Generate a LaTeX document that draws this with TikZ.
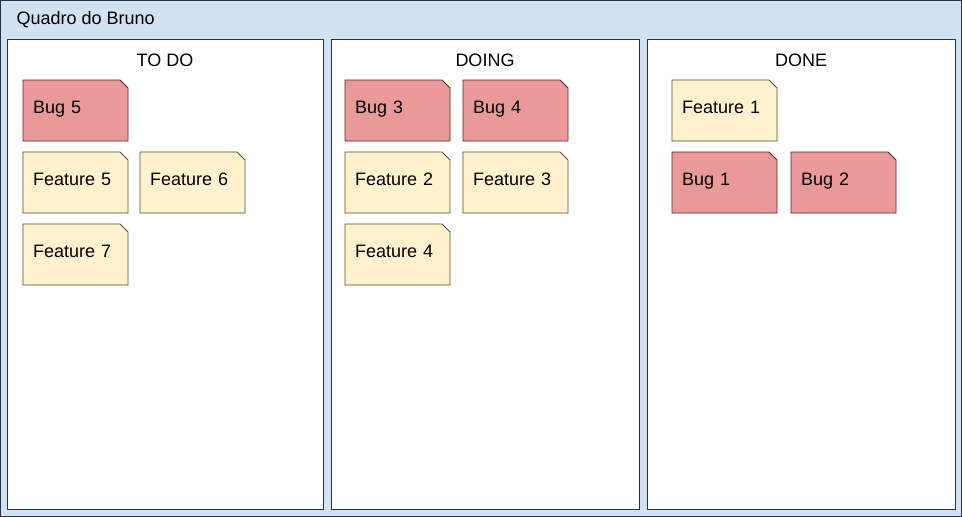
\documentclass[tikz,border=0pt]{standalone}
\usepackage{fontspec}
\setmainfont{Liberation Sans}
\definecolor{boardfill}{RGB}{211,226,243}
\definecolor{boardline}{RGB}{35,50,70}
\definecolor{bugfill}{RGB}{234,153,153}
\definecolor{bugline}{RGB}{90,35,35}
\definecolor{featfill}{RGB}{255,242,204}
\definecolor{featline}{RGB}{90,78,45}
\tikzset{
  x=1pt, y=-1pt,
  lane/.style={draw=boardline, fill=white, line width=1pt},
  cardbox/.style={rectangle, minimum width=105pt, minimum height=61pt,
    inner xsep=10pt, inner ysep=0pt, text width=85pt, align=left,
    anchor=north west, font=\fontsize{18}{20}\selectfont},
  bug/.style={draw=bugline, fill=bugfill, line width=0.8pt},
  feat/.style={draw=featline, fill=featfill, line width=0.8pt},
  lanetitle/.style={font=\fontsize{18}{20}\selectfont, anchor=center},
}
% a card: outline with a cut upper right corner, then its text node
% #1 name, #2 kind (bug/feat), #3 position, #4 text
\newcommand{\kcard}[4]{%
  \path #3 coordinate (#1-o);
  \path[#2] (#1-o) -- ++(97,0) -- ++(8,8) -- ++(0,53) -- ++(-105,0) -- cycle;
  \node[cardbox] (#1) at (#1-o) {\raisebox{6pt}{#4}};
}
\begin{document}
\begin{tikzpicture}
\useasboundingbox (0,0) rectangle (962,517);
% board
\draw[draw=boardline, fill=boardfill, line width=1pt] (0.5,0.5) rectangle (961.5,516.5);
\node[anchor=west, font=\fontsize{18}{20}\selectfont] (board) at (13,20) {Quadro do Bruno};
% lanes
\draw[lane] (7.5,39.5) rectangle (323.5,509.5);
\draw[lane] (331.5,39.5) rectangle (639.5,509.5);
\draw[lane] (647.5,39.5) rectangle (955.5,509.5);
\node[lanetitle] (todo) at (165,60) {TO DO};
\node[lanetitle] (doing) at (485,60) {DOING};
\node[lanetitle] (done) at (801,60) {DONE};
% TO DO cards
\kcard{bug5}{bug}{(23,80)}{Bug 5}
\kcard{feat5}{feat}{(23,152)}{Feature 5}
\kcard{feat6}{feat}{(140,152)}{Feature 6}
\kcard{feat7}{feat}{(23,224)}{Feature 7}
% DOING cards
\kcard{bug3}{bug}{(345,80)}{Bug 3}
\kcard{bug4}{bug}{(463,80)}{Bug 4}
\kcard{feat2}{feat}{(345,152)}{Feature 2}
\kcard{feat3}{feat}{(463,152)}{Feature 3}
\kcard{feat4}{feat}{(345,224)}{Feature 4}
% DONE cards
\kcard{feat1}{feat}{(672,80)}{Feature 1}
\kcard{bug1}{bug}{(672,152)}{Bug 1}
\kcard{bug2}{bug}{(791,152)}{Bug 2}
\end{tikzpicture}
\end{document}
